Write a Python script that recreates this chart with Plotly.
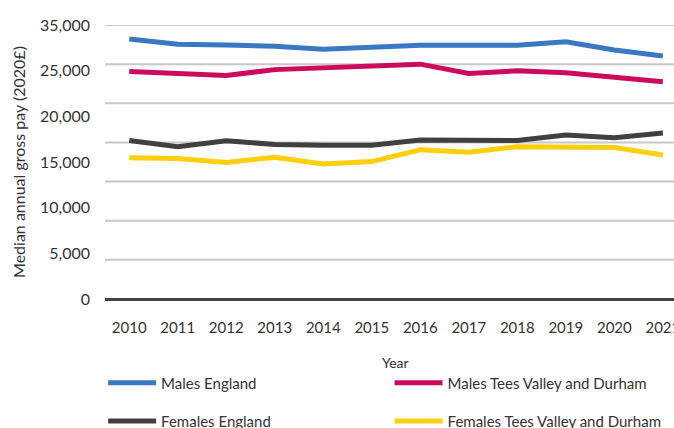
import plotly.graph_objects as go

years = [str(y) for y in range(2010, 2022)]

males_england = [33200, 32550, 32450, 32300, 31900, 32150, 32400, 32400, 32400, 32850, 31800, 31050]
males_tvd = [29050, 28800, 28550, 29300, 29550, 29750, 30000, 28800, 29150, 28900, 28300, 27750]
females_england = [20250, 19450, 20200, 19750, 19650, 19650, 20300, 20300, 20250, 20950, 20600, 21200]
females_tvd = [18050, 17950, 17450, 18100, 17250, 17550, 19050, 18750, 19450, 19400, 19350, 18400]

grid_vals = [5000, 10000, 15000, 20000, 25000, 30000, 35000]
label_text = ["0", "5,000", "10,000", "15,000", "20,000", "25,000", "35,000"]

FONT = "Lato"
TXT = "#333333"

# name, values, colour, legend slot (2 x 2 grid of legends)
series = [
    ("Males England", males_england, "#3a78c3", "legend"),
    ("Males Tees Valley and Durham", males_tvd, "#cc0a5e", "legend2"),
    ("Females England", females_england, "#404040", "legend3"),
    ("Females Tees Valley and Durham", females_tvd, "#fdcf0c", "legend4"),
]

fig = go.Figure()
for name, vals, col, lg in series:
    fig.add_trace(go.Scatter(x=years, y=vals, name=name, mode="lines",
                             line=dict(color=col, width=5), legend=lg))

# gridlines sit on every 5,000 step
for g in grid_vals:
    fig.add_hline(y=g, line=dict(color="#c8c8c8", width=2), layer="below")

# the source's labels are spread evenly over the range, not on the gridlines
label_pos = [i * 35000 / (len(label_text) - 1) for i in range(len(label_text))]

def leg(x, y):
    return dict(orientation="v", x=x, y=y, xref="container", yref="container",
                xanchor="left", yanchor="middle", itemwidth=48,
                font=dict(family=FONT, size=15, color=TXT),
                bgcolor="rgba(0,0,0,0)")

fig.update_layout(
    width=674, height=428,
    margin=dict(l=105, r=0, t=25, b=129, autoexpand=False),
    plot_bgcolor="white", paper_bgcolor="white",
    font=dict(family=FONT, color=TXT),
    showlegend=True,
    legend=leg(0.153, 0.105),
    legend2=leg(0.578, 0.105),
    legend3=leg(0.153, 0.016),
    legend4=leg(0.578, 0.016),
    xaxis=dict(type="category", range=[-0.5, 11.23], showgrid=False,
               showline=False, zeroline=False, ticks="", automargin=False,
               ticklabelstandoff=18,
               tickfont=dict(family=FONT, size=15, color=TXT)),
    yaxis=dict(range=[0, 35000], tickvals=label_pos, ticktext=label_text,
               showgrid=False, zeroline=True, zerolinecolor="#444444",
               zerolinewidth=3, showline=False, ticks="", automargin=False,
               ticklabelstandoff=14,
               tickfont=dict(family=FONT, size=16, color=TXT)),
    annotations=[
        dict(text="Year", xref="paper", yref="paper", x=0.511, y=-0.23,
             xanchor="center", yanchor="middle", showarrow=False,
             font=dict(family=FONT, size=14, color=TXT)),
        dict(text="Median annual gross pay (2020£)", xref="paper", yref="paper",
             x=-0.153, y=0.5, textangle=-90, xanchor="center", yanchor="middle",
             showarrow=False, font=dict(family=FONT, size=16, color=TXT)),
    ],
)

fig.write_html("out.html", config={"displayModeBar": False},
               post_script="document.body.style.margin='0';")
